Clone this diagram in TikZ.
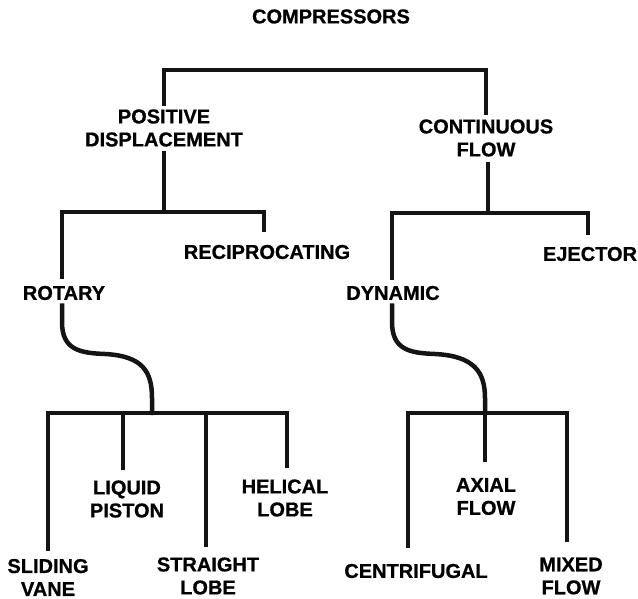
\documentclass[tikz,border=0pt]{standalone}
\usepackage{fontspec}
\setmainfont{Liberation Sans}[BoldFeatures={FakeBold=0.8}]
\begin{document}
\begin{tikzpicture}[x=1pt,y=-1pt,
  lbl/.style={font=\fontsize{20}{23}\selectfont\bfseries, align=center, inner sep=0pt, text=black},
  conn/.style={line width=4.5pt, line join=miter, line cap=butt, draw=black!92}]
\useasboundingbox[fill=white] (0,0) rectangle (638,599);
% bar levels
\coordinate (bar0) at (0,70);
\coordinate (bar1) at (0,212);
\coordinate (bar2) at (0,213);
\coordinate (bar3) at (0,413);
% labels
\node[lbl] (comp)  at (331,16.5)  {COMPRESSORS};
\node[lbl] (pd)    at (164,128)   {POSITIVE\\DISPLACEMENT};
\node[lbl] (cf)    at (486,138)   {CONTINUOUS\\FLOW};
\node[lbl] (rot)   at (64,293)    {ROTARY};
\node[lbl] (recip) at (267,252)   {RECIPROCATING};
\node[lbl] (dyn)   at (393,293)   {DYNAMIC};
\node[lbl] (ej)    at (590,254)   {EJECTOR};
\node[lbl] (lp)    at (127,499)   {LIQUID\\PISTON};
\node[lbl] (hl)    at (285,498)   {HELICAL\\LOBE};
\node[lbl] (sv)    at (48,577.5)  {SLIDING\\VANE};
\node[lbl] (sl)    at (208,576)   {STRAIGHT\\LOBE};
\node[lbl] (af)    at (486,496.5) {AXIAL\\FLOW};
\node[lbl] (cen)   at (416,571)   {CENTRIFUGAL};
\node[lbl] (mf)    at (571,576)   {MIXED\\FLOW};
% top level
\draw[conn] ([yshift=3pt]pd.north) |- (cf.north |- bar0) -- ([yshift=4pt]cf.north);
% positive displacement
\draw[conn, shorten >=-2pt] ([yshift=-4pt]pd.south) -- (pd.south |- bar1);
\draw[conn] ([xshift=-2pt,yshift=7pt]rot.north) |- ([xshift=-3pt]recip.north |- bar1) -- ([xshift=-3pt,yshift=13pt]recip.north);
% continuous flow
\draw[conn, shorten >=-2pt] ([xshift=2pt,yshift=-5pt]cf.south) -- ([xshift=2pt]cf.south |- bar2);
\draw[conn] ([xshift=-1pt,yshift=6pt]dyn.north) |- ([xshift=-2pt]ej.north |- bar2) -- ([xshift=-2pt,yshift=12pt]ej.north);
% rotary
\draw[conn, shorten >=-2pt] ([xshift=-2pt,yshift=-3pt]rot.south) -- (62,322)
  .. controls (62,350) and (80,353) .. (105,354)
  .. controls (143,356) and (152,372) .. (152,398) -- (152,413);
\draw[conn] ([yshift=8pt]sv.north) |- ([xshift=2pt]hl.north |- bar3) -- ([xshift=2pt,yshift=11pt]hl.north);
\draw[conn, shorten >=-2pt] ([xshift=-4pt,yshift=10pt]lp.north) -- ([xshift=-4pt]lp.north |- bar3);
\draw[conn, shorten >=-2pt] ([xshift=-2pt,yshift=10pt]sl.north) -- ([xshift=-2pt]sl.north |- bar3);
% dynamic
\draw[conn, shorten >=-2pt] ([xshift=-1pt,yshift=-3pt]dyn.south) -- (392,322)
  .. controls (392,350) and (410,353) .. (435,354)
  .. controls (474,356) and (485,372) .. (485,398) -- (485,413);
\draw[conn] ([xshift=-8pt,yshift=16pt]cen.north) |- ([xshift=-4pt]mf.north |- bar3) -- ([xshift=-4pt,yshift=15pt]mf.north);
\draw[conn, shorten >=-2pt] ([xshift=-1pt,yshift=16pt]af.north) -- ([xshift=-1pt]af.north |- bar3);
\end{tikzpicture}
\end{document}
